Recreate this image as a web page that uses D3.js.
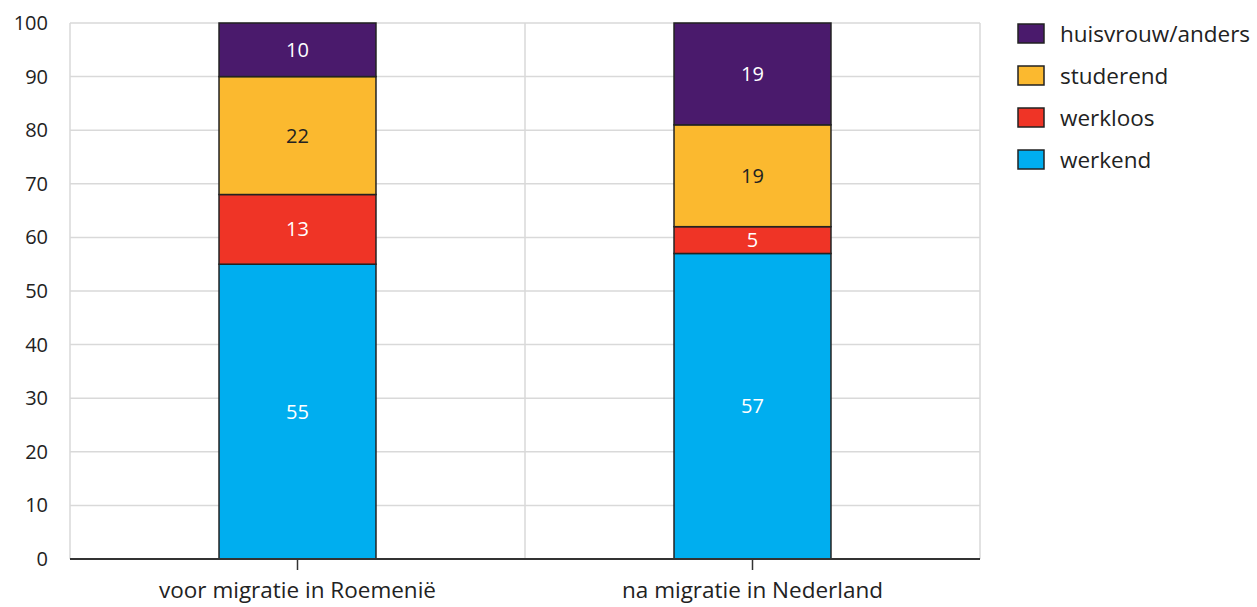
<!DOCTYPE html>
<html>
<head>
<meta charset="utf-8">
<script src="https://cdn.jsdelivr.net/npm/d3@7"></script>
<style>
  body { margin: 0; background: #fff; }
  text { font-family: "Open Sans", sans-serif; }
</style>
</head>
<body>
<div id="chart"></div>
<script>
// data
var categories = ["voor migratie in Roemenië", "na migratie in Nederland"];
var seriesNames = ["werkend", "werkloos", "studerend", "huisvrouw/anders"];
var werkend = [55, 57];
var werkloos = [13, 5];
var studerend = [22, 19];
var huisvrouw = [10, 19];
var yTicks = [0, 10, 20, 30, 40, 50, 60, 70, 80, 90, 100];

var colors = ["#00aeef", "#ef3426", "#fbb92f", "#4a1a6c"];
var labelColors = ["#fff", "#fff", "#222", "#fff"];

var svgWidth = 1257;
var svgHeight = 607;
var margin = {top: 23, right: 277, bottom: 48, left: 70};
var width = svgWidth - margin.left - margin.right;
var height = svgHeight - margin.top - margin.bottom;

var svg = d3.select("#chart")
  .append("svg")
  .attr("width", svgWidth)
  .attr("height", svgHeight);

var chartGroup = svg.append("g")
  .attr("transform", `translate(${margin.left}, ${margin.top})`);

// build table for stacking
var table = categories.map(function(c, i) {
  return {
    cat: c,
    "werkend": werkend[i],
    "werkloos": werkloos[i],
    "studerend": studerend[i],
    "huisvrouw/anders": huisvrouw[i]
  };
});
var stacked = d3.stack().keys(seriesNames)(table);

var xScale = d3.scaleBand()
  .domain(categories)
  .range([0, width])
  .padding(0);

var yScale = d3.scaleLinear()
  .domain([0, 100])
  .range([height, 0]);

var barWidth = xScale.bandwidth() * 0.345;

// gridlines
chartGroup.append("g")
  .selectAll("line")
  .data(yTicks.filter(d => d > 0))
  .enter()
  .append("line")
  .attr("x1", 0)
  .attr("x2", width)
  .attr("y1", d => yScale(d))
  .attr("y2", d => yScale(d))
  .attr("stroke", "#d9d9d9")
  .attr("stroke-width", 1.5);

chartGroup.append("g")
  .selectAll("line")
  .data([0, 1, 2])
  .enter()
  .append("line")
  .attr("x1", d => d * xScale.step())
  .attr("x2", d => d * xScale.step())
  .attr("y1", 0)
  .attr("y2", height)
  .attr("stroke", "#d9d9d9")
  .attr("stroke-width", 1.5);

// y axis labels
var leftAxis = d3.axisLeft(yScale).tickValues(yTicks).tickSize(0).tickPadding(22);
var yAxis = chartGroup.append("g").call(leftAxis);
yAxis.select(".domain").remove();
yAxis.selectAll("text")
  .attr("font-size", 20)
  .attr("font-family", "Open Sans, sans-serif")
  .attr("fill", "#222");

// bars
var layers = chartGroup.selectAll(".layer")
  .data(stacked)
  .enter()
  .append("g")
  .attr("class", "layer")
  .attr("fill", (d, i) => colors[i]);

layers.selectAll("rect")
  .data(d => d)
  .enter()
  .append("rect")
  .attr("x", d => xScale(d.data.cat) + xScale.bandwidth() / 2 - barWidth / 2)
  .attr("y", d => yScale(d[1]))
  .attr("width", barWidth)
  .attr("height", d => yScale(d[0]) - yScale(d[1]))
  .attr("stroke", "#222")
  .attr("stroke-width", 1.5);

// value labels
stacked.forEach(function(layer, i) {
  chartGroup.selectAll(".lbl" + i)
    .data(layer)
    .enter()
    .append("text")
    .attr("x", d => xScale(d.data.cat) + xScale.bandwidth() / 2)
    .attr("y", d => yScale((d[0] + d[1]) / 2))
    .attr("dy", "0.35em")
    .attr("text-anchor", "middle")
    .attr("font-size", 20)
    .attr("fill", labelColors[i])
    .text(d => d[1] - d[0]);
});

// x axis
var bottomAxis = d3.axisBottom(xScale).tickSize(11).tickPadding(12);
var xAxis = chartGroup.append("g")
  .attr("transform", `translate(0, ${height})`)
  .call(bottomAxis);
xAxis.select(".domain")
  .attr("stroke", "#333")
  .attr("stroke-width", 2)
  .attr("d", `M0,0H${width}`);
xAxis.selectAll("line").attr("stroke", "#333").attr("stroke-width", 1.5);
xAxis.selectAll("text")
  .attr("font-size", 22.5)
  .attr("font-family", "Open Sans, sans-serif")
  .attr("fill", "#222");

// legend
var legendItems = seriesNames.slice().reverse();
var legendColors = colors.slice().reverse();
var legend = svg.append("g")
  .attr("transform", "translate(1018, 24)");

var rows = legend.selectAll("g")
  .data(legendItems)
  .enter()
  .append("g")
  .attr("transform", (d, i) => `translate(0, ${i * 42})`);

rows.append("rect")
  .attr("width", 26)
  .attr("height", 19)
  .attr("fill", (d, i) => legendColors[i])
  .attr("stroke", "#222")
  .attr("stroke-width", 1.5);

rows.append("text")
  .attr("x", 42)
  .attr("y", 10)
  .attr("dy", "0.35em")
  .attr("font-size", 22.5)
  .attr("fill", "#222")
  .text(d => d);
</script>
</body>
</html>
